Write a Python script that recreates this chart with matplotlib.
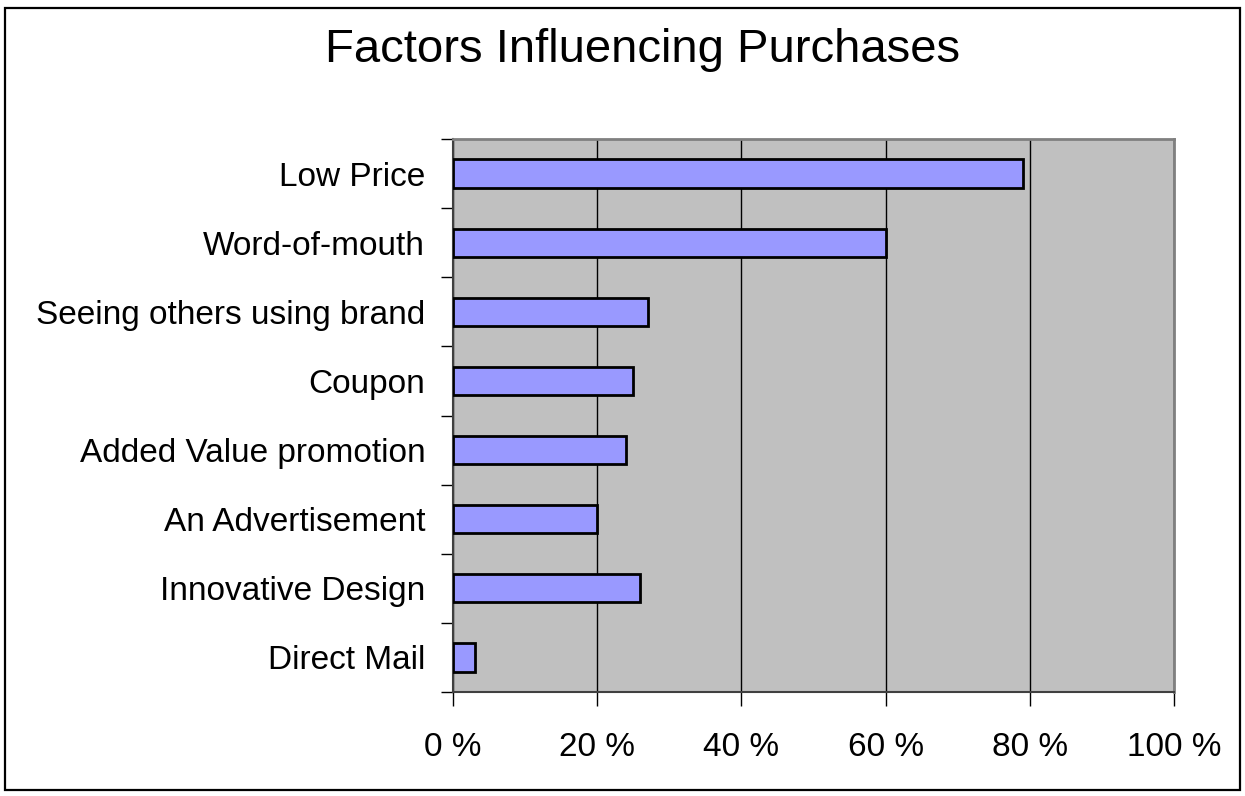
import numpy as np
import matplotlib
matplotlib.use("Agg")
import matplotlib.pyplot as plt
from matplotlib.patches import Rectangle
from matplotlib.ticker import FixedLocator

# data (percent)
factors = ["Low Price", "Word-of-mouth", "Seeing others using brand", "Coupon",
           "Added Value promotion", "An Advertisement", "Innovative Design", "Direct Mail"]
shares = [79, 60, 27, 25, 24, 20, 26, 3]
x_ticks = [0, 20, 40, 60, 80, 100]
x_labels = ["0 %", "20 %", "40 %", "60 %", "80 %", "100 %"]

plt.rcParams["font.family"] = ["Liberation Sans", "DejaVu Sans"]

fig = plt.figure(figsize=(12.45, 7.96), dpi=100)
ax = fig.add_axes([453 / 1245, 1 - 692 / 796, 721 / 1245, 553 / 796])

# black frame round the whole chart
fig.patches.append(Rectangle((5 / 1245, 6 / 796), 1235 / 1245, 782 / 796,
                             transform=fig.transFigure, fill=False,
                             edgecolor="black", linewidth=1.6))

ax.set_facecolor("#C0C0C0")
y_pos = np.arange(len(factors))
ax.barh(y_pos, shares, height=0.41, color="#9999FF", edgecolor="black",
        linewidth=2, zorder=3)

ax.set_xlim(0, 100)
ax.set_ylim(len(factors) - 0.5, -0.5)

ax.set_xticks(x_ticks)
ax.set_xticklabels(x_labels, fontsize=24)
ax.set_yticks(y_pos)
ax.set_yticklabels(factors, fontsize=24)
ax.yaxis.set_minor_locator(FixedLocator(np.arange(-0.5, len(factors), 1.0)))
ax.tick_params(axis="y", which="major", length=0, pad=20)
ax.tick_params(axis="y", which="minor", length=9, width=1, direction="out")
ax.tick_params(axis="x", length=10, width=1, direction="out", pad=19)

ax.xaxis.grid(True, color="black", linewidth=1, zorder=1)
ax.set_axisbelow(True)

for side in ["top", "right"]:
    ax.spines[side].set_color("#808080")
    ax.spines[side].set_linewidth(2)
for side in ["left", "bottom"]:
    ax.spines[side].set_color("#404040")
    ax.spines[side].set_linewidth(1.5)

fig.text(643 / 1245, 1 - 50 / 796, "Factors Influencing Purchases",
         ha="center", va="center", fontsize=34, fontweight="medium")

fig.savefig("out.png", dpi=100)
